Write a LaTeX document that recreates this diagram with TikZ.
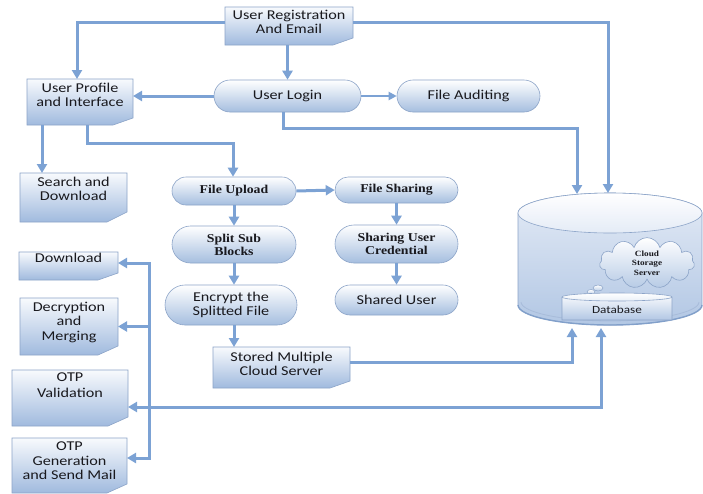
\documentclass[tikz,border=0pt]{standalone}
\usepackage{fontspec}
\setmainfont{Carlito}[FakeStretch=1.2]
\newfontfamily\sbfont{Liberation Serif}[FakeStretch=1.15]
\usetikzlibrary{arrows.meta,shapes.misc,shapes.symbols,backgrounds}
\definecolor{arrc}{RGB}{124,162,212}
\definecolor{bord}{RGB}{140,164,200}
\definecolor{docb}{RGB}{160,186,222}
\definecolor{docw}{RGB}{248,250,253}
\definecolor{rndb}{RGB}{165,190,223}
\definecolor{txt}{RGB}{25,25,30}
\definecolor{cyla}{RGB}{228,235,246}
\definecolor{cylb}{RGB}{178,199,228}
\definecolor{rim}{RGB}{130,160,202}
\newcommand\mydocbox[4]{\parbox[c][#2][t]{#1}{\centering\vspace*{#3}#4\par}}
\newcommand\mydocshape[2]{%
  \begin{scope}[on background layer]
    \shadedraw[docshade] (#1.north west) -- (#1.north east) -- ([yshift=#2]#1.south east) -- ([xshift=-20pt]#1.south east) -- (#1.south west) -- cycle;
  \end{scope}}
\tikzset{
  docnode/.style={inner sep=0pt, outer sep=0pt, text=txt},
  docshade/.style={draw=bord, line width=0.6pt, top color=docw, bottom color=docb},
  rnd/.style={rounded rectangle, draw=bord, line width=0.6pt, top color=white, bottom color=rndb, inner sep=0pt, align=center, text=txt},
  sbt/.style={font=\sbfont\bfseries\fontsize{12pt}{13pt}\selectfont},
  arr/.style={draw=arrc, line width=3pt, -{Triangle[length=9pt,width=10pt]}},
  arrthin/.style={draw=arrc, line width=2pt, -{Triangle[length=8pt,width=8pt]}},
  arrboth/.style={draw=arrc, line width=3pt, {Triangle[length=9pt,width=10pt]}-{Triangle[length=9pt,width=10pt]}}
}
\begin{document}
\begin{tikzpicture}[x=1pt, y=-1pt, font=\fontsize{13.5pt}{14.5pt}\selectfont]
\useasboundingbox (0,0) rectangle (703,493);
\begin{scope}[on background layer]
  \fill[white] (0,0) rectangle (703,493);
\end{scope}

% cylinder (cloud storage)
\shadedraw[draw=bord, line width=0.6pt, top color=cyla, bottom color=cylb]
  (518,213) -- (518,305) .. controls (518,316) and (559.2,325) .. (610,325)
  .. controls (660.8,325) and (702,316) .. (702,305) -- (702,213)
  .. controls (702,202) and (660.8,193) .. (610,193)
  .. controls (559.2,193) and (518,202) .. (518,213) -- cycle;
\shadedraw[draw=bord, line width=0.6pt, top color=white, bottom color=cyla] (610,213) ellipse [x radius=92, y radius=20];
\draw[rim, line width=1.4pt] (518,305) .. controls (518,316) and (559.2,325) .. (610,325)
  .. controls (660.8,325) and (702,316) .. (702,305);
\draw[rim!70, line width=0.8pt] (521,302) .. controls (521,312) and (561,321) .. (610,321)
  .. controls (659,321) and (699,312) .. (699,302);
\coordinate (cT1) at (577,194);
\coordinate (cT2) at (608,193);
\coordinate (cB1) at (572,328);
\coordinate (cB2) at (601,328);

% cloud
\node[cloud, cloud puffs=11, aspect=2.3, draw=bord, line width=0.6pt, top color=white, bottom color=rndb!80, minimum width=95pt, minimum height=40pt, inner sep=0pt, align=center, text=txt, font=\sbfont\bfseries\fontsize{8pt}{9.5pt}\selectfont] (cloud) at (647,263) {Cloud\\Storage\\Server};
\shadedraw[draw=bord, line width=0.5pt, top color=white, bottom color=rndb!80] (598,288) ellipse [x radius=5, y radius=3];
\shadedraw[draw=bord, line width=0.5pt, top color=white, bottom color=rndb!80] (591,292) ellipse [x radius=4, y radius=2.5];
\shadedraw[draw=bord, line width=0.5pt, top color=white, bottom color=rndb!80] (585,295.5) ellipse [x radius=3, y radius=2];

% database
\shadedraw[draw=bord, line width=0.6pt, top color=white, bottom color=cylb]
  (562,297) -- (562,320) -- (672,320) -- (672,297)
  .. controls (672,294.8) and (647.4,293) .. (617,293)
  .. controls (586.6,293) and (562,294.8) .. (562,297) -- cycle;
\draw[bord, line width=0.6pt] (562,297) .. controls (562,299.2) and (586.6,301) .. (617,301)
  .. controls (647.4,301) and (672,299.2) .. (672,297);
\node[inner sep=0pt, text=txt, font=\fontsize{11pt}{12pt}\selectfont] (db) at (617,310) {Database};

% document-shaped nodes
\node[docnode] (reg) at (289,26) {\mydocbox{128pt}{38pt}{3pt}{User Registration\\And Email}};
\mydocshape{reg}{7pt}
\node[docnode] (prof) at (80,102) {\mydocbox{106pt}{46pt}{4pt}{User Profile\\and Interface}};
\mydocshape{prof}{7pt}
\node[docnode] (search) at (73.5,197.5) {\mydocbox{107pt}{49pt}{4pt}{Search and\\Download}};
\mydocshape{search}{10pt}
\node[docnode] (download) at (68.5,266) {\mydocbox{99pt}{28pt}{1pt}{Download}};
\mydocshape{download}{7pt}
\node[docnode] (decrypt) at (69,326.5) {\mydocbox{98pt}{57pt}{4pt}{Decryption\\and\\Merging}};
\mydocshape{decrypt}{9pt}
\node[docnode] (otpv) at (70,398) {\mydocbox{116pt}{56pt}{3pt}{OTP\\[1.5pt]Validation}};
\mydocshape{otpv}{9pt}
\node[docnode] (otpg) at (69.5,465.5) {\mydocbox{115pt}{55pt}{4pt}{OTP\\Generation\\and Send Mail}};
\mydocshape{otpg}{9pt}
\node[docnode] (stored) at (281.5,367.5) {\mydocbox{137pt}{41pt}{5pt}{Stored Multiple\\Cloud Server}};
\mydocshape{stored}{7pt}

% rounded nodes
\node[rnd, minimum width=147pt, minimum height=32pt] (login) at (287.5,96) {User Login};
\node[rnd, minimum width=143pt, minimum height=32pt] (audit) at (468.5,96) {File Auditing};
\node[rnd, sbt, minimum width=124pt, minimum height=28pt] (upload) at (234,191) {File Upload};
\node[rnd, sbt, minimum width=124pt, minimum height=37pt] (split) at (234,244.5) {Split Sub\\Blocks};
\node[rnd, minimum width=132pt, minimum height=40pt] (encrypt) at (231,305) {Encrypt the\\Splitted File};
\node[rnd, sbt, minimum width=123pt, minimum height=26pt] (sharing) at (396.5,190) {File Sharing};
\node[rnd, sbt, minimum width=123pt, minimum height=38pt] (cred) at (396.5,244) {Sharing User\\Credential};
\node[rnd, minimum width=123pt, minimum height=30pt] (shared) at (396.5,300) {Shared User};

% connectors
\draw[arr] ([yshift=4pt]reg.west) -| ([xshift=-3pt]prof.north);
\draw[arr] ([yshift=4pt]reg.east) -| (cT2);
\draw[arr] (reg.south -| login.north) -- (login.north);
\draw[arr] (login.west) -- (login.west -| prof.east);
\draw[arrthin] (login.east) -- (audit.west);
\draw[arr] ([xshift=-4pt]login.south) -- ++(0,16) -| (cT1);
\draw[arr] ([xshift=-38pt]prof.south) -- ([xshift=-38pt]prof.south |- search.north);
\draw[arr] ([xshift=7pt]prof.south) -- ++(0,18) -| ([xshift=-1pt]upload.north);
\draw[arr] (upload.east) -- (sharing.west);
\draw[arr] (upload.south) -- (split.north);
\draw[arr] (split.south) -- (split.south |- encrypt.north);
\draw[arr] (split.south |- encrypt.south) -- (split.south |- stored.north);
\draw[arr] (sharing.south) -- (cred.north);
\draw[arr] (cred.south) -- (shared.north);
\draw[arr] ([yshift=5pt]stored.east) -| (cB1);
\draw[arrboth] ([yshift=-9pt]otpv.east) -| (cB2);
\coordinate (busT) at (149,263);
\coordinate (busB) at (149,458);
\draw[arr] (busB) -- (busT) -- (busT -| download.east);
\draw[arr] (busT) -- (busB) -- (busB -| otpg.east);
\draw[arr] (busT |- decrypt.east) -- (decrypt.east);
\end{tikzpicture}
\end{document}
